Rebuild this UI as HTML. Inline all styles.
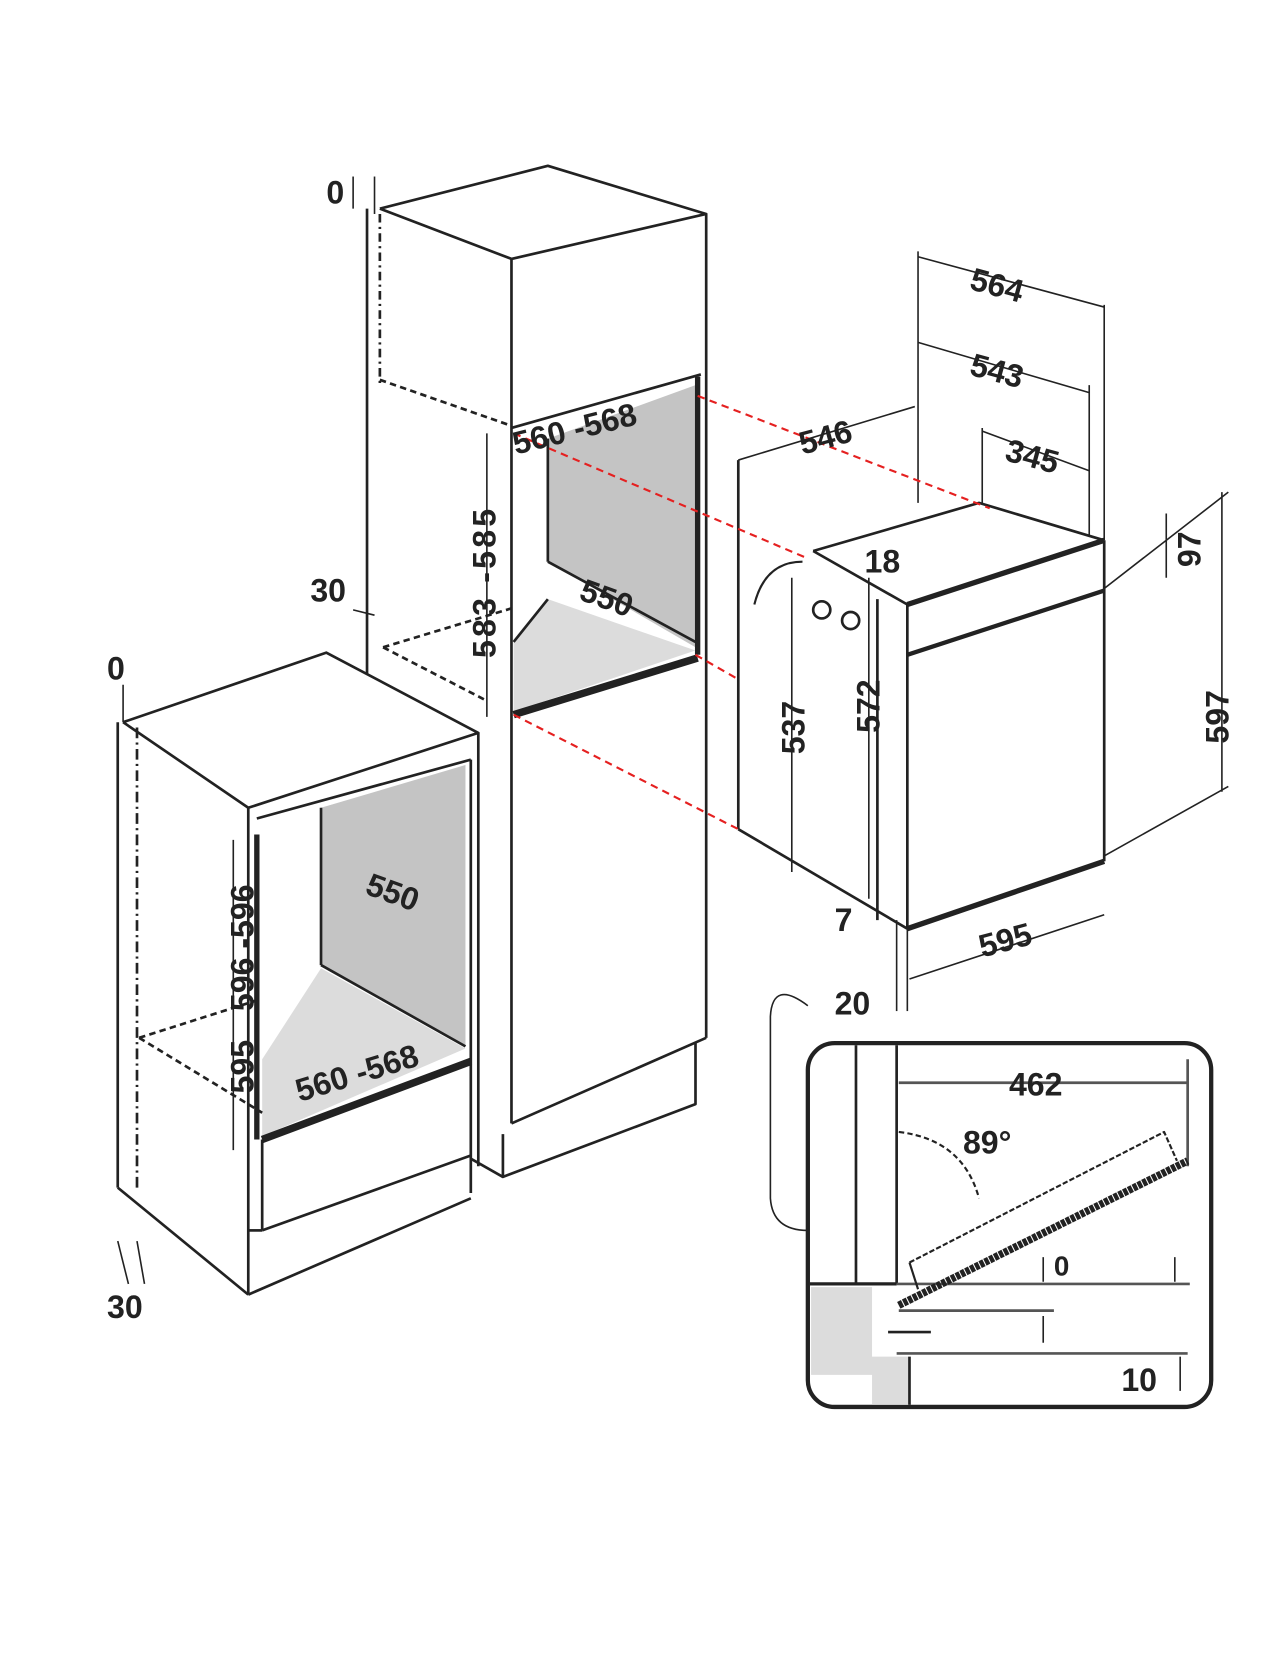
<!DOCTYPE html>
<html><head><meta charset="utf-8"><style>
html,body{margin:0;padding:0;background:#fff}
svg{display:block}
text{font-family:"Liberation Sans Narrow","Liberation Sans",sans-serif;font-weight:bold;font-size:30px;fill:#222}
</style></head><body>
<svg width="1284" height="1668" viewBox="0 0 1200 1559" xmlns="http://www.w3.org/2000/svg">
<g fill="none" stroke="#222" stroke-width="2.5" stroke-linejoin="round">
<!-- middle tall cabinet -->
<polygon points="478,400 652,355 652,610 480,668" fill="#fff" stroke="none"/>
<polygon points="512,410 650,360 650,605 512,525" fill="#c4c4c4" stroke="none"/>
<polygon points="480,600 512,560 650,608 480,665" fill="#dcdcdc" stroke="none"/>
<polyline points="355,195 512,155 660,200 478,242 355,195"/>
<line x1="343" y1="195" x2="343" y2="630"/>
<line x1="355" y1="200" x2="355" y2="360" stroke-dasharray="8,4,2,4"/>
<line x1="478" y1="242" x2="478" y2="1050"/>
<line x1="660" y1="200" x2="660" y2="970"/>
<line x1="355" y1="355" x2="478" y2="398" stroke-dasharray="6,4"/>
<line x1="478" y1="400" x2="655" y2="350"/>
<line x1="512" y1="410" x2="512" y2="525"/>
<line x1="512" y1="525" x2="650" y2="600"/>
<line x1="480" y1="600" x2="512" y2="560"/>
<line x1="480" y1="668" x2="652" y2="615" stroke-width="7"/>
<line x1="652" y1="352" x2="652" y2="612" stroke-width="5"/>
<line x1="478" y1="1050" x2="660" y2="970"/>
<polyline points="470,1060 470,1100 650,1032 650,975"/>
<line x1="440" y1="1083" x2="470" y2="1100"/>
<line x1="358" y1="605" x2="480" y2="568" stroke-dasharray="6,4"/>
<line x1="358" y1="605" x2="455" y2="655" stroke-dasharray="6,4"/>
<line x1="455" y1="405" x2="455" y2="670" stroke-width="1.5"/>
<!-- left cabinet -->
<polygon points="240,765 440,710 440,990 245,1065" fill="#fff" stroke="none"/>
<polygon points="300,755 435,715 435,978 300,902" fill="#c4c4c4" stroke="none"/>
<polygon points="245,990 300,905 435,980 245,1062" fill="#dcdcdc" stroke="none"/>
<polyline points="115,675 305,610 447,685 232,755 115,675"/>
<line x1="110" y1="675" x2="110" y2="1110"/>
<line x1="128" y1="680" x2="128" y2="1110" stroke-dasharray="10,4,2,4"/>
<line x1="232" y1="755" x2="232" y2="1210"/>
<line x1="110" y1="1110" x2="232" y2="1210"/>
<line x1="447" y1="685" x2="447" y2="1090"/>
<line x1="240" y1="765" x2="440" y2="710"/>
<line x1="300" y1="755" x2="300" y2="902"/>
<line x1="300" y1="902" x2="435" y2="978"/>
<line x1="240" y1="780" x2="240" y2="1065" stroke-width="5"/>
<line x1="245" y1="1065" x2="440" y2="992" stroke-width="7"/>
<line x1="440" y1="710" x2="440" y2="1115"/>
<line x1="245" y1="1065" x2="245" y2="1150"/>
<line x1="232" y1="1150" x2="245" y2="1150"/>
<line x1="245" y1="1150" x2="440" y2="1080"/>
<line x1="232" y1="1210" x2="440" y2="1120"/>
<line x1="130" y1="970" x2="240" y2="935" stroke-dasharray="6,4"/>
<line x1="130" y1="970" x2="245" y2="1040" stroke-dasharray="6,4"/>
<line x1="218" y1="785" x2="218" y2="1075" stroke-width="1.5"/>
<!-- oven -->
<line x1="690" y1="430" x2="690" y2="775"/>
<line x1="690" y1="775" x2="848" y2="868"/>
<line x1="760" y1="515" x2="848" y2="565"/>
<polyline points="760,515 915,470 1032,505"/>
<line x1="848" y1="565" x2="848" y2="868"/>
<line x1="820" y1="560" x2="820" y2="860"/>
<line x1="1032" y1="505" x2="1032" y2="805"/>
<line x1="848" y1="565" x2="1032" y2="505" stroke-width="5"/>
<line x1="848" y1="612" x2="1032" y2="552" stroke-width="4"/>
<line x1="848" y1="868" x2="1032" y2="805" stroke-width="5"/>
<path d="M705,565 Q715,525 750,525" stroke-width="2"/>
<circle cx="768" cy="570" r="8"/><circle cx="795" cy="580" r="8"/>
<!-- dimensions -->
<g stroke-width="1.5">
<line x1="858" y1="235" x2="858" y2="470"/><line x1="1032" y1="285" x2="1032" y2="505"/>
<line x1="858" y1="240" x2="1032" y2="287"/>
<line x1="858" y1="320" x2="1018" y2="367"/><line x1="1018" y1="360" x2="1018" y2="500"/>
<line x1="918" y1="400" x2="918" y2="470"/><line x1="918" y1="403" x2="1018" y2="440"/>
<line x1="690" y1="430" x2="855" y2="380"/>
<line x1="1032" y1="550" x2="1148" y2="460"/><line x1="1032" y1="800" x2="1148" y2="735"/>
<line x1="1142" y1="460" x2="1142" y2="740"/>
<line x1="1090" y1="480" x2="1090" y2="540"/>
<line x1="740" y1="540" x2="740" y2="815"/>
<line x1="812" y1="540" x2="812" y2="840"/>
<line x1="850" y1="915" x2="1032" y2="855"/>
<line x1="848" y1="868" x2="848" y2="945"/><line x1="838" y1="860" x2="838" y2="945"/>
<line x1="330" y1="165" x2="330" y2="195"/><line x1="350" y1="165" x2="350" y2="200"/>
<line x1="330" y1="570" x2="350" y2="575"/>
<line x1="115" y1="640" x2="115" y2="675"/>
<line x1="110" y1="1160" x2="120" y2="1200"/><line x1="128" y1="1160" x2="135" y2="1200"/>
<path d="M755,940 Q722,915 720,950 L720,1120 Q722,1150 755,1150"/>
</g>
<!-- red -->
<g stroke="#e52020" stroke-width="2" stroke-dasharray="7,5">
<line x1="652" y1="370" x2="925" y2="475"/>
<line x1="480" y1="405" x2="755" y2="522"/>
<line x1="650" y1="612" x2="690" y2="635"/>
<line x1="480" y1="668" x2="690" y2="775"/>
</g>
<!-- inset -->
<rect x="755" y="975" width="377" height="340" rx="25" fill="#fff" stroke-width="4"/>
<polygon points="758,1203 815,1203 815,1268 850,1268 850,1313 815,1313 815,1285 758,1285" fill="#dcdcdc" stroke="none"/>
<line x1="800" y1="977" x2="800" y2="1200"/><line x1="838" y1="977" x2="838" y2="1200"/>
<line x1="757" y1="1200" x2="838" y2="1200" stroke-width="3"/>
<line x1="838" y1="1200" x2="1112" y2="1200" stroke="#555"/>
<line x1="838" y1="1265" x2="1110" y2="1265" stroke="#555"/>
<line x1="850" y1="1268" x2="850" y2="1313"/>
<line x1="840" y1="1225" x2="985" y2="1225" stroke="#555"/>
<line x1="830" y1="1245" x2="870" y2="1245"/>
<line x1="840" y1="1012" x2="1110" y2="1012" stroke="#555"/>
<line x1="1110" y1="990" x2="1110" y2="1090" stroke="#555"/>
<line x1="840" y1="1220" x2="1110" y2="1085" stroke-width="7" stroke-dasharray="4,1"/>
<polyline points="850,1180 1088,1058 1100,1085" stroke-width="2" stroke-dasharray="5,2"/>
<line x1="850" y1="1180" x2="858" y2="1205" stroke-width="2"/>
<path d="M840,1058 Q900,1065 915,1120" stroke-width="2" stroke-dasharray="5,3"/>
<line x1="975" y1="1175" x2="975" y2="1198" stroke-width="1.5"/>
<line x1="1098" y1="1175" x2="1098" y2="1198" stroke-width="1.5"/>
<line x1="975" y1="1230" x2="975" y2="1255" stroke-width="1.5"/>
<line x1="1103" y1="1268" x2="1103" y2="1300" stroke-width="1.5"/>
</g>
<!-- labels -->
<text x="305" y="190">0</text>
<text x="100" y="635">0</text>
<text x="290" y="562">30</text>
<text x="100" y="1232">30</text>
<text x="482" y="425" transform="rotate(-14 482 425)">560 -568</text>
<text x="540" y="560" transform="rotate(20 540 560)">550</text>
<text x="463" y="615" transform="rotate(-90 463 615)" letter-spacing="3">583 -585</text>
<text x="340" y="835" transform="rotate(20 340 835)">550</text>
<text x="237" y="945" transform="rotate(-90 237 945)">596 -596</text>
<text x="237" y="1022" transform="rotate(-90 237 1022)">595</text>
<text x="280" y="1030" transform="rotate(-17 280 1030)">560 -568</text>
<text x="905" y="270" transform="rotate(15 905 270)">564</text>
<text x="905" y="350" transform="rotate(15 905 350)">543</text>
<text x="938" y="430" transform="rotate(15 938 430)">345</text>
<text x="750" y="425" transform="rotate(-15 750 425)">546</text>
<text x="808" y="535">18</text>
<text x="1122" y="530" transform="rotate(-90 1122 530)">97</text>
<text x="1148" y="695" transform="rotate(-90 1148 695)">597</text>
<text x="752" y="705" transform="rotate(-90 752 705)">537</text>
<text x="822" y="685" transform="rotate(-90 822 685)">572</text>
<text x="780" y="870">7</text>
<text x="918" y="895" transform="rotate(-15 918 895)">595</text>
<text x="780" y="948">20</text>
<text x="943" y="1024">462</text>
<text x="900" y="1078">89°</text>
<text x="985" y="1192" style="font-size:26px">0</text>
<text x="1048" y="1300">10</text>
</svg>
</body></html>
